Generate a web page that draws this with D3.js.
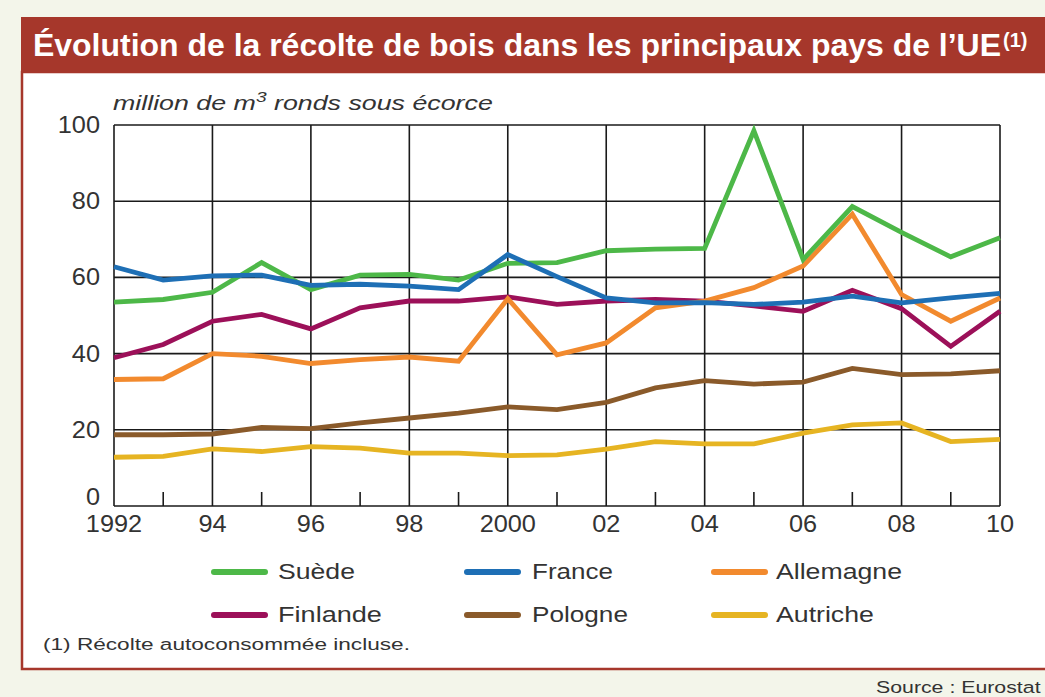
<!DOCTYPE html>
<html><head><meta charset="utf-8">
<script src="https://cdn.jsdelivr.net/npm/d3@7"></script>
<style>
html,body{margin:0;padding:0;background:#f3f5ea;}
svg{display:block;}
text{font-family:"Liberation Sans",Arial,sans-serif;}
</style></head>
<body>
<svg id="c" width="1045" height="697"></svg>
<script>
const years = d3.range(1992, 2011);
const suede     = [53.5,54.2,56.1,63.9,56.8,60.6,60.8,59.3,63.7,63.9,67.0,67.4,67.6,98.5,64.7,78.6,71.8,65.4,70.4];
const france    = [62.8,59.3,60.4,60.6,57.9,58.2,57.7,56.8,66.0,60.2,54.6,53.3,53.4,52.9,53.5,55.1,53.3,54.6,55.8];
const allemagne = [33.2,33.4,40.0,39.3,37.4,38.4,39.1,38.0,54.4,39.7,42.8,52.0,53.8,57.3,63.0,76.6,55.5,48.5,54.6];
const finlande  = [38.9,42.4,48.5,50.3,46.5,52.0,53.8,53.8,54.9,52.9,53.8,54.2,53.8,52.5,51.1,56.6,51.8,41.9,51.1];
const pologne   = [18.7,18.7,18.9,20.6,20.3,21.8,23.1,24.4,26.0,25.3,27.2,31.0,32.9,32.0,32.5,36.1,34.5,34.7,35.5];
const autriche  = [12.8,13.0,15.0,14.3,15.6,15.2,13.9,13.9,13.2,13.4,14.9,16.9,16.3,16.3,19.1,21.3,21.8,16.9,17.5];
const yTicks = [0,20,40,60,80,100];
const xTickYears = [1992,1994,1996,1998,2000,2002,2004,2006,2008,2010];
const xTickLabels = ["1992","94","96","98","2000","02","04","06","08","10"];
const seriesNames = ["Suède","France","Allemagne","Finlande","Pologne","Autriche"];
const seriesColors = ["#4db848","#1e6fb5","#f28a2e","#9c1059","#8a5a2a","#e6b422"];
const seriesValues = [suede,france,allemagne,finlande,pologne,autriche];

const svg = d3.select("#c");
const red = "#a6372b";

// stretch a text horizontally (anchored at its x) to a target width
function fitWidth(sel, target, anchorX){
  const w = sel.node().getBBox().width;
  if (w > 0) {
    const s = target / w;
    sel.attr("transform", `translate(${anchorX},0) scale(${s},1) translate(${-anchorX},0)`);
  }
  return sel;
}

// frame
svg.append("rect").attr("x",22).attr("y",72).attr("width",1045-22+5).attr("height",669-72)
  .attr("fill","#ffffff").attr("stroke",red).attr("stroke-width",2.5);
svg.append("rect").attr("x",21).attr("y",17).attr("width",1030).attr("height",56).attr("fill",red);
svg.append("text").attr("x",33).attr("y",56).attr("fill","#ffffff").attr("font-size",31).attr("font-weight","bold")
  .style("font-family","'Liberation Sans Narrow','Arial Narrow','Liberation Sans',sans-serif")
  .attr("textLength",968).attr("lengthAdjust","spacingAndGlyphs")
  .text("Évolution de la récolte de bois dans les principaux pays de l’UE");
svg.append("text").attr("x",1003).attr("y",47).attr("fill","#ffffff").attr("font-size",20).attr("font-weight","bold")
  .style("font-family","'Liberation Sans Narrow','Arial Narrow','Liberation Sans',sans-serif")
  .text("(1)");

const x = d3.scaleLinear().domain([1992,2010]).range([114,1000]);
const y = d3.scaleLinear().domain([0,100]).range([506,125]);

const g = svg.append("g");
// grid
g.selectAll("line.h").data(yTicks).enter().append("line")
  .attr("x1",x(1992)).attr("x2",x(2010)).attr("y1",d=>y(d)).attr("y2",d=>y(d))
  .attr("stroke","#1a1a1a").attr("stroke-width",1.6);
g.selectAll("line.v").data(xTickYears).enter().append("line")
  .attr("y1",y(0)).attr("y2",y(100)).attr("x1",d=>x(d)).attr("x2",d=>x(d))
  .attr("stroke","#1a1a1a").attr("stroke-width",1.6);
g.selectAll("line.m").data(years.filter(d=>d%2===1)).enter().append("line")
  .attr("y1",y(0)).attr("y2",y(0)-14).attr("x1",d=>x(d)).attr("x2",d=>x(d))
  .attr("stroke","#1a1a1a").attr("stroke-width",1.6);

// axes labels
g.selectAll("text.yl").data(yTicks).enter().append("text")
  .attr("x",100).attr("y",d=>d===0 ? y(d)-1 : y(d)+8).attr("text-anchor","end").attr("font-size",23).attr("fill","#333")
  .attr("transform","translate(100,0) scale(1.1,1) translate(-100,0)")
  .text(d=>d);
g.selectAll("text.xl").data(xTickYears).enter().append("text")
  .attr("x",d=>x(d)).attr("y",532).attr("text-anchor","middle").attr("font-size",23).attr("fill","#333")
  .attr("transform",d=>`translate(${x(d)},0) scale(1.1,1) translate(${-x(d)},0)`)
  .text((d,i)=>xTickLabels[i]);

const unit = svg.append("text").attr("x",113).attr("y",110).attr("font-size",21).attr("font-style","italic").attr("fill","#333");
unit.append("tspan").text("million de m");
unit.append("tspan").attr("font-size",15).attr("dy",-8).text("3");
unit.append("tspan").attr("dy",8).text(" ronds sous écorce");
fitWidth(unit, 380, 113);

// lines
const line = d3.line().x((d,i)=>x(years[i])).y(d=>y(d));
const order = [4,5,3,2,0,1];
order.forEach(k=>{
  g.append("path").datum(seriesValues[k]).attr("d",line).attr("fill","none")
    .attr("stroke",seriesColors[k]).attr("stroke-width",4.8).attr("stroke-linejoin","miter");
});

// legend
const legLineX = [211,464,711], legTextX = [278,532,776], legY = [572,615];
const legW = [77,81,126,104,96,98];
seriesNames.forEach((n,i)=>{
  const c = i%3, r = Math.floor(i/3);
  const ly = legY[r];
  svg.append("line").attr("x1",legLineX[c]+3).attr("x2",legLineX[c]+54).attr("y1",ly).attr("y2",ly)
    .attr("stroke",seriesColors[i]).attr("stroke-width",6).attr("stroke-linecap","round");
  const t = svg.append("text").attr("x",legTextX[c]).attr("y",ly+7).attr("font-size",22).attr("fill","#333").text(n);
  fitWidth(t, legW[i], legTextX[c]);
});

const fn = svg.append("text").attr("x",43).attr("y",650).attr("font-size",17).attr("fill","#333")
  .text("(1) Récolte autoconsommée incluse.");
fitWidth(fn, 367, 43);
const src = svg.append("text").attr("x",876).attr("y",693).attr("font-size",17).attr("fill","#333")
  .text("Source : Eurostat");
fitWidth(src, 165, 876);
</script>
</body></html>
